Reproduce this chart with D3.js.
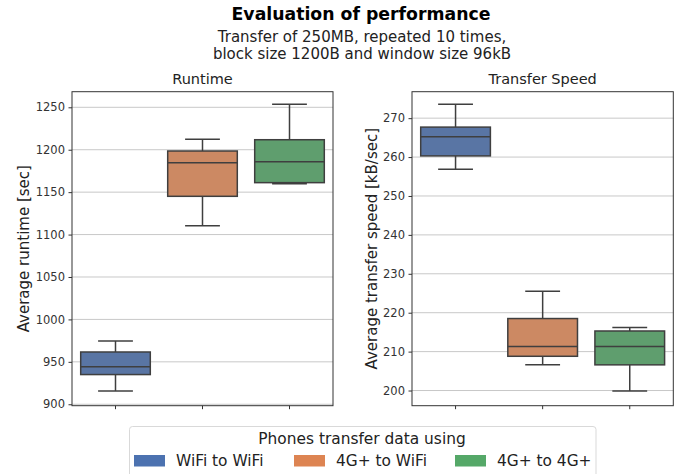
<!DOCTYPE html>
<html>
<head>
<meta charset="utf-8">
<script src="https://cdn.jsdelivr.net/npm/d3@7"></script>
<style>
  body { margin: 0; background: #fff; }
  svg { font-family: "DejaVu Sans", sans-serif; }
</style>
</head>
<body>
<svg id="chart" width="686" height="474"></svg>
<script>
// Connection types compared in both panels
const categories = ["WiFi to WiFi", "4G+ to WiFi", "4G+ to 4G+"];
const fillColors = ["#5975a4", "#cc8963", "#5f9e6e"];
const legendColors = ["#4c72b0", "#dd8452", "#55a868"];

// Box statistics per category: [whiskerLow, q1, median, q3, whiskerHigh]
const runtimeStats = [
  [915.7, 935.0, 944.3, 961.6, 974.6],
  [1110.5, 1145.1, 1184.8, 1198.5, 1212.3],
  [1160.0, 1161.2, 1185.9, 1211.8, 1253.5]
];
const speedStats = [
  [256.9, 260.3, 265.2, 267.7, 273.6],
  [206.6, 208.8, 211.3, 218.5, 225.5],
  [199.9, 206.6, 211.3, 215.3, 216.2]
];

const runtimeTicks = [900, 950, 1000, 1050, 1100, 1150, 1200, 1250];
const speedTicks = [200, 210, 220, 230, 240, 250, 260, 270];

const svg = d3.select("#chart");
const lineColor = "#3f3f3f";

// Figure titles
svg.append("text").attr("x", 361).attr("y", 19.5).attr("text-anchor", "middle")
  .attr("font-size", 17.3).attr("font-weight", "bold").attr("fill", "#000")
  .text("Evaluation of performance");
svg.append("text").attr("x", 362).attr("y", 42).attr("text-anchor", "middle")
  .attr("font-size", 15).attr("fill", "#222")
  .text("Transfer of 250MB, repeated 10 times,");
svg.append("text").attr("x", 362).attr("y", 58.5).attr("text-anchor", "middle")
  .attr("font-size", 15).attr("fill", "#222")
  .text("block size 1200B and window size 96kB");

function panel(opts) {
  const { left, right, top, bottom, domain, ticks, stats, title, ylabel, ylabelX } = opts;
  const g = svg.append("g");
  const x = d3.scaleBand().domain(categories).range([left, right]).paddingInner(0).paddingOuter(0);
  const y = d3.scaleLinear().domain(domain).range([bottom, top]);

  // horizontal grid
  g.selectAll("line.grid").data(ticks).join("line")
    .attr("x1", left).attr("x2", right)
    .attr("y1", d => y(d)).attr("y2", d => y(d))
    .attr("stroke", "#c8c8c8").attr("stroke-width", 1);

  // y axis
  const yAxis = d3.axisLeft(y).tickValues(ticks).tickSize(3.5).tickPadding(3.5).tickFormat(d3.format("d"));
  const ya = g.append("g").attr("transform", `translate(${left},0)`).call(yAxis);
  ya.select(".domain").remove();
  ya.selectAll(".tick line").attr("stroke", "#333");
  ya.selectAll(".tick text").attr("font-size", 11.5).attr("fill", "#333")
    .attr("font-family", "DejaVu Sans, sans-serif");

  // x axis (tick marks only)
  const xAxis = d3.axisBottom(x).tickSize(3.5).tickFormat("");
  const xa = g.append("g").attr("transform", `translate(0,${bottom})`).call(xAxis);
  xa.select(".domain").remove();
  xa.selectAll(".tick line").attr("stroke", "#333");

  // boxes
  const bw = x.bandwidth() * 0.8;
  const boxes = g.selectAll("g.box").data(stats).join("g")
    .attr("transform", (d, i) => `translate(${x(categories[i]) + x.bandwidth() / 2},0)`);
  boxes.append("line").attr("x1", 0).attr("x2", 0)
    .attr("y1", d => y(d[3])).attr("y2", d => y(d[4]))
    .attr("stroke", lineColor).attr("stroke-width", 1.5);
  boxes.append("line").attr("x1", 0).attr("x2", 0)
    .attr("y1", d => y(d[0])).attr("y2", d => y(d[1]))
    .attr("stroke", lineColor).attr("stroke-width", 1.5);
  boxes.append("line").attr("x1", -bw / 4).attr("x2", bw / 4)
    .attr("y1", d => y(d[4])).attr("y2", d => y(d[4]))
    .attr("stroke", lineColor).attr("stroke-width", 1.5);
  boxes.append("line").attr("x1", -bw / 4).attr("x2", bw / 4)
    .attr("y1", d => y(d[0])).attr("y2", d => y(d[0]))
    .attr("stroke", lineColor).attr("stroke-width", 1.5);
  boxes.append("rect").attr("x", -bw / 2).attr("width", bw)
    .attr("y", d => y(d[3])).attr("height", d => y(d[1]) - y(d[3]))
    .attr("fill", (d, i) => fillColors[i])
    .attr("stroke", lineColor).attr("stroke-width", 1.5);
  boxes.append("line").attr("x1", -bw / 2).attr("x2", bw / 2)
    .attr("y1", d => y(d[2])).attr("y2", d => y(d[2]))
    .attr("stroke", lineColor).attr("stroke-width", 1.5);

  // frame
  g.append("rect").attr("x", left).attr("y", top)
    .attr("width", right - left).attr("height", bottom - top)
    .attr("fill", "none").attr("stroke", "#333").attr("stroke-width", 1);

  // titles
  g.append("text").attr("x", (left + right) / 2).attr("y", top - 8)
    .attr("text-anchor", "middle").attr("font-size", 14.5).attr("fill", "#222").text(title);
  g.append("text")
    .attr("transform", `translate(${ylabelX},${(top + bottom) / 2}) rotate(-90)`)
    .attr("text-anchor", "middle").attr("font-size", 15).attr("fill", "#222").text(ylabel);
}

panel({
  left: 72, right: 333, top: 91.7, bottom: 405.7,
  domain: [898.3, 1268.4], ticks: runtimeTicks, stats: runtimeStats,
  title: "Runtime", ylabel: "Average runtime [sec]", ylabelX: 29
});
panel({
  left: 412, right: 673.3, top: 91.7, bottom: 405.7,
  domain: [196.1, 276.8], ticks: speedTicks, stats: speedStats,
  title: "Transfer Speed", ylabel: "Average transfer speed [kB/sec]", ylabelX: 377
});

// Legend
const lg = svg.append("g");
lg.append("rect").attr("x", 129.5).attr("y", 426.5).attr("width", 466.5).attr("height", 60)
  .attr("rx", 3).attr("fill", "#fff").attr("stroke", "#d9d9d9").attr("stroke-width", 1);
lg.append("text").attr("x", 362).attr("y", 443.5).attr("text-anchor", "middle")
  .attr("font-size", 15.4).attr("fill", "#222").text("Phones transfer data using");
const handleX = [134, 294, 455];
const items = lg.selectAll("g.item").data(categories).join("g")
  .attr("transform", (d, i) => `translate(${handleX[i]},455)`);
items.append("rect").attr("width", 31).attr("height", 11.5)
  .attr("fill", (d, i) => legendColors[i]);
items.append("text").attr("x", 42).attr("y", 11).attr("font-size", 15.4)
  .attr("fill", "#222").text(d => d);
</script>
</body>
</html>
